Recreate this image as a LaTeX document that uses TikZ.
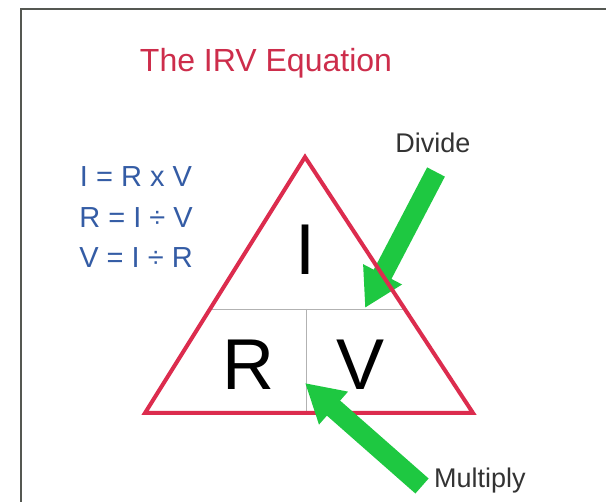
\documentclass[tikz,border=0pt]{standalone}
\usepackage{fontspec}
\setmainfont{Liberation Sans}
\usetikzlibrary{calc, positioning, arrows.meta}
\definecolor{irvRed}{RGB}{220, 44, 78}
\definecolor{irvTitle}{RGB}{205, 45, 75}
\definecolor{irvBlue}{RGB}{52, 92, 165}
\definecolor{irvGreen}{RGB}{30, 200, 65}
\definecolor{irvFrame}{RGB}{85, 88, 82}

\begin{document}
\begin{tikzpicture}[x=1pt, y=-1pt,
  bigarrow/.style={line width=20pt, irvGreen, -{Triangle[length=38pt, width=41pt]}},
  letter/.style={anchor=base, inner sep=0pt, font=\fontsize{72}{80}\selectfont},
  formula/.style={anchor=base, inner sep=0pt, text=irvBlue, font=\fontsize{29}{35}\selectfont},
  callout/.style={anchor=base, inner sep=0pt, text=black!80, font=\fontsize{27}{32}\selectfont}]
  \useasboundingbox (0,0) rectangle (606,502);
  \fill[white] (0,0) rectangle (606,502);
  \draw[irvFrame, line width=2pt] (21,502) -- (21,9) -- (606,9);

  \node[anchor=base, inner sep=0pt, text=irvTitle, font=\fontsize{32}{38}\selectfont] (title) at (266,72) {The IRV Equation};

  % formulas on the left
  \node[formula] (eqI) at (136,187) {I = R x V};
  \node[formula] (eqR) at (136,228) {R = I ÷ V};
  \node[formula] (eqV) at (136,268) {V = I ÷ R};

  % triangle corners and dividers
  \coordinate (top) at (305,157);
  \coordinate (bl) at (145,413);
  \coordinate (br) at (473,413);
  \coordinate (ml) at ($(top)!0.594!(bl)$);
  \coordinate (mr) at ($(top)!0.594!(br)$);
  \coordinate (mm) at (306,309);
  \draw[gray!60, line width=0.8pt] (ml) -- (mr);
  \draw[gray!60, line width=0.8pt] (mm) -- (mm |- bl);

  \node[letter] (I) at (306,275) {I};
  \node[letter] (R) at (248,390) {R};
  \node[letter] (V) at (361,390) {V};

  \node[callout] (divide) at (433,153) {Divide};
  \node[callout, anchor=base west] (multiply) at (434,488) {Multiply};

  \coordinate (divtail) at (436,172);
  \coordinate (divtip) at (365,308);
  \draw[bigarrow] (divtail) -- (divtip);

  \draw[irvRed, line width=4pt] (top) -- (bl) -- (br) -- cycle;

  \coordinate (multail) at (422,486);
  \coordinate (multip) at (305,383);
  \draw[bigarrow] (multail) -- (multip);
\end{tikzpicture}
\end{document}
